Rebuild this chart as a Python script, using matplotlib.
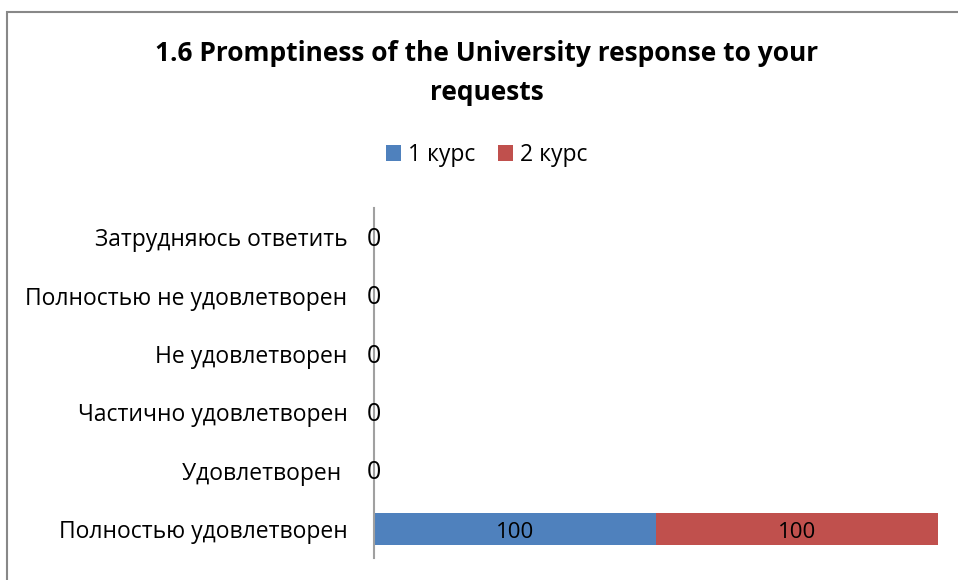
import matplotlib
matplotlib.use("Agg")
import matplotlib.pyplot as plt
from matplotlib.patches import Rectangle

# categories from bottom to top
categories = ["Полностью удовлетворен", "Удовлетворен ", "Частично удовлетворен",
              "Не удовлетворен", "Полностью не удовлетворен", "Затрудняюсь ответить"]
kurs1 = [100, 0, 0, 0, 0, 0]
kurs2 = [100, 0, 0, 0, 0, 0]
series_names = ["1 курс", "2 курс"]
colors = ["#4F81BD", "#C0504D"]

plt.rcParams['font.family'] = ['Open Sans', 'DejaVu Sans']

fig = plt.figure(figsize=(9.58, 5.8), dpi=100)
ax = fig.add_axes([374 / 958, 1 - 558 / 580, (938 - 374) / 958, 350 / 580])

y = list(range(len(categories)))
b1 = ax.barh(y, kurs1, height=0.54, color=colors[0], label=series_names[0])
b2 = ax.barh(y, kurs2, left=kurs1, height=0.54, color=colors[1], label=series_names[1])

# data labels
for i in y:
    if kurs1[i] > 0:
        ax.text(kurs1[i] / 2, i - 0.06, str(kurs1[i]), ha='center', va='center', fontsize=16)
        ax.text(kurs1[i] + kurs2[i] / 2, i - 0.06, str(kurs2[i]), ha='center', va='center', fontsize=16)
    else:
        ax.text(0, i - 0.04, "0", ha='center', va='center', fontsize=18)

ax.set_xlim(0, 200)
ax.set_ylim(-0.5, len(categories) - 0.5)
ax.set_yticks(y)
ax.set_yticklabels(categories, fontsize=16.5)
ax.tick_params(axis='y', length=0, pad=19)
ax.set_xticks([])
for s in ['top', 'right', 'bottom']:
    ax.spines[s].set_visible(False)
ax.spines['left'].set_color('#A0A0A0')
ax.spines['left'].set_linewidth(1.5)

fig.text(487 / 958, 1 - 73 / 580, "1.6 Promptiness of the University response to your\nrequests",
         ha='center', va='center', fontsize=19, fontweight='bold', linespacing=1.55)

fig.legend(handles=[b1, b2], loc='center', bbox_to_anchor=(487 / 958, 1 - 155 / 580),
           ncol=2, frameon=False, fontsize=16.5, handlelength=0.65, handleheight=0.65,
           handletextpad=0.3, columnspacing=1.0)

fig.patches.append(Rectangle((7 / 958, -0.1), 1.2, 1 - 12 / 580 + 0.1, transform=fig.transFigure,
                             fill=False, edgecolor='#888888', linewidth=1.5))

fig.savefig("out.png", dpi=100)
